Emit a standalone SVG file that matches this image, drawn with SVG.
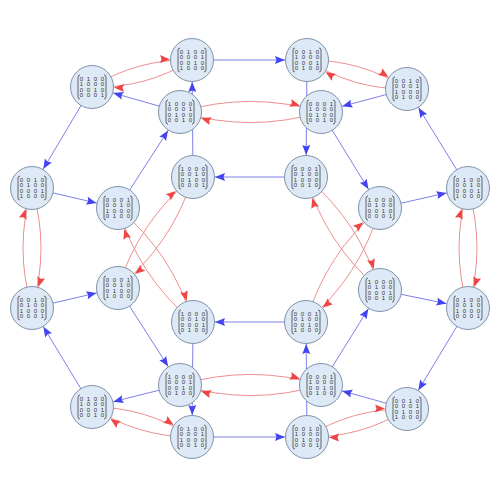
<svg xmlns="http://www.w3.org/2000/svg" xmlns:xlink="http://www.w3.org/1999/xlink" width="500" height="489" viewBox="0 0 500 489">
<style>
.node circle{fill:#dde9f6;stroke:#8093a8;stroke-width:1}
.node text{font-family:"Liberation Sans",Arial,sans-serif;font-size:6px;fill:#333;text-anchor:middle}
.b{fill:none;stroke:#8080ea;stroke-width:1;marker-end:url(#ab)}
.r{fill:none;stroke:#ef8e8e;stroke-width:1;marker-end:url(#ar)}
</style>
<defs>
<marker id="ab" markerUnits="userSpaceOnUse" markerWidth="12" markerHeight="10" orient="auto" refX="22" refY="0" style="overflow:visible">
<path d="M0,0 L-10,-4 L-8.5,0 L-10,4 Z" fill="#4343f0"/>
</marker>
<marker id="ar" markerUnits="userSpaceOnUse" markerWidth="12" markerHeight="10" orient="auto" refX="22" refY="0" style="overflow:visible">
<path d="M0,0 L-10,-4 L-8.5,0 L-10,4 Z" fill="#ef4545"/>
</marker>
<path id="brk" d="M-12,-12 Q-14,-12 -14,-10 V10 Q-14,12 -12,12 M12,-12 Q14,-12 14,-10 V10 Q14,12 12,12" fill="none" stroke="#444" stroke-width="0.8"/>
</defs>
<rect width="500" height="489" fill="#fff"/>
<g id="edges">
<g id="blue">
<path class="b" d="M192,60 L307,60"/>
<path class="b" d="M307,60 L306,177"/>
<path class="b" d="M306,177 L193,177"/>
<path class="b" d="M193,177 L192,60"/>
<path class="b" d="M306,322 L193,322"/>
<path class="b" d="M193,322 L192,437"/>
<path class="b" d="M192,437 L307,437"/>
<path class="b" d="M307,437 L306,322"/>
<path class="b" d="M180,112 L92,87"/>
<path class="b" d="M92,87 L32,188"/>
<path class="b" d="M32,188 L118,208"/>
<path class="b" d="M118,208 L180,112"/>
<path class="b" d="M407,89 L321,112"/>
<path class="b" d="M321,112 L380,208"/>
<path class="b" d="M380,208 L468,188"/>
<path class="b" d="M468,188 L407,89"/>
<path class="b" d="M32,308 L118,288"/>
<path class="b" d="M118,288 L180,385"/>
<path class="b" d="M180,385 L92,407"/>
<path class="b" d="M92,407 L32,308"/>
<path class="b" d="M380,290 L468,308"/>
<path class="b" d="M468,308 L407,409"/>
<path class="b" d="M407,409 L321,385"/>
<path class="b" d="M321,385 L380,290"/>
</g>
<g id="red">
<path class="r" d="M92,87 Q137.95,58.5 192,60"/>
<path class="r" d="M192,60 Q146.05,88.5 92,87"/>
<path class="r" d="M180,112 Q250.5,90.85 321,112"/>
<path class="r" d="M321,112 Q250.5,133.15 180,112"/>
<path class="r" d="M307,60 Q361.35,59.5 407,89"/>
<path class="r" d="M407,89 Q352.65,89.5 307,60"/>
<path class="r" d="M32,188 Q50,248 32,308"/>
<path class="r" d="M32,308 Q14,248 32,188"/>
<path class="r" d="M468,188 Q486,248 468,308"/>
<path class="r" d="M468,308 Q450,248 468,188"/>
<path class="r" d="M118,208 Q172.6,253.75 193,322"/>
<path class="r" d="M193,322 Q138.4,276.25 118,208"/>
<path class="r" d="M118,288 Q138.85,221.25 193,177"/>
<path class="r" d="M193,177 Q172.15,243.75 118,288"/>
<path class="r" d="M306,177 Q359.95,222.4 380,290"/>
<path class="r" d="M380,290 Q326.05,244.6 306,177"/>
<path class="r" d="M380,208 Q360.1,276.1 306,322"/>
<path class="r" d="M306,322 Q325.9,253.9 380,208"/>
<path class="r" d="M180,385 Q250.5,363.85 321,385"/>
<path class="r" d="M321,385 Q250.5,406.15 180,385"/>
<path class="r" d="M92,407 Q146.5,407 192,437"/>
<path class="r" d="M192,437 Q137.5,437 92,407"/>
<path class="r" d="M307,437 Q352.8,408 407,409"/>
<path class="r" d="M407,409 Q361.2,438 307,437"/>
</g>
</g>
<g id="nodes">
<g id="nA" class="node" transform="translate(92,87)"><circle r="21.5"/><use href="#brk"/>
<text x="-10.5 -3.5 3.5 10.5" y="-6.1">0100</text><text x="-10.5 -3.5 3.5 10.5" y="-0.6">1000</text><text x="-10.5 -3.5 3.5 10.5" y="4.9">0010</text><text x="-10.5 -3.5 3.5 10.5" y="10.4">0001</text></g>
<g id="nB" class="node" transform="translate(192,60)"><circle r="21.5"/><use href="#brk"/>
<text x="-10.5 -3.5 3.5 10.5" y="-6.1">0100</text><text x="-10.5 -3.5 3.5 10.5" y="-0.6">0001</text><text x="-10.5 -3.5 3.5 10.5" y="4.9">0010</text><text x="-10.5 -3.5 3.5 10.5" y="10.4">1000</text></g>
<g id="nC" class="node" transform="translate(180,112)"><circle r="21.5"/><use href="#brk"/>
<text x="-10.5 -3.5 3.5 10.5" y="-6.1">1000</text><text x="-10.5 -3.5 3.5 10.5" y="-0.6">0001</text><text x="-10.5 -3.5 3.5 10.5" y="4.9">0100</text><text x="-10.5 -3.5 3.5 10.5" y="10.4">0010</text></g>
<g id="nD" class="node" transform="translate(307,60)"><circle r="21.5"/><use href="#brk"/>
<text x="-10.5 -3.5 3.5 10.5" y="-6.1">0010</text><text x="-10.5 -3.5 3.5 10.5" y="-0.6">1000</text><text x="-10.5 -3.5 3.5 10.5" y="4.9">0001</text><text x="-10.5 -3.5 3.5 10.5" y="10.4">0100</text></g>
<g id="nE" class="node" transform="translate(407,89)"><circle r="21.5"/><use href="#brk"/>
<text x="-10.5 -3.5 3.5 10.5" y="-6.1">0010</text><text x="-10.5 -3.5 3.5 10.5" y="-0.6">0001</text><text x="-10.5 -3.5 3.5 10.5" y="4.9">1000</text><text x="-10.5 -3.5 3.5 10.5" y="10.4">0100</text></g>
<g id="nF" class="node" transform="translate(321,112)"><circle r="21.5"/><use href="#brk"/>
<text x="-10.5 -3.5 3.5 10.5" y="-6.1">0001</text><text x="-10.5 -3.5 3.5 10.5" y="-0.6">1000</text><text x="-10.5 -3.5 3.5 10.5" y="4.9">0100</text><text x="-10.5 -3.5 3.5 10.5" y="10.4">0010</text></g>
<g id="nG" class="node" transform="translate(32,188)"><circle r="21.5"/><use href="#brk"/>
<text x="-10.5 -3.5 3.5 10.5" y="-6.1">0010</text><text x="-10.5 -3.5 3.5 10.5" y="-0.6">0100</text><text x="-10.5 -3.5 3.5 10.5" y="4.9">0001</text><text x="-10.5 -3.5 3.5 10.5" y="10.4">1000</text></g>
<g id="nH" class="node" transform="translate(118,208)"><circle r="21.5"/><use href="#brk"/>
<text x="-10.5 -3.5 3.5 10.5" y="-6.1">0001</text><text x="-10.5 -3.5 3.5 10.5" y="-0.6">0010</text><text x="-10.5 -3.5 3.5 10.5" y="4.9">1000</text><text x="-10.5 -3.5 3.5 10.5" y="10.4">0100</text></g>
<g id="nI" class="node" transform="translate(380,208)"><circle r="21.5"/><use href="#brk"/>
<text x="-10.5 -3.5 3.5 10.5" y="-6.1">1000</text><text x="-10.5 -3.5 3.5 10.5" y="-0.6">0100</text><text x="-10.5 -3.5 3.5 10.5" y="4.9">0010</text><text x="-10.5 -3.5 3.5 10.5" y="10.4">0001</text></g>
<g id="nJ" class="node" transform="translate(468,188)"><circle r="21.5"/><use href="#brk"/>
<text x="-10.5 -3.5 3.5 10.5" y="-6.1">0100</text><text x="-10.5 -3.5 3.5 10.5" y="-0.6">0010</text><text x="-10.5 -3.5 3.5 10.5" y="4.9">0001</text><text x="-10.5 -3.5 3.5 10.5" y="10.4">1000</text></g>
<g id="nK" class="node" transform="translate(32,308)"><circle r="21.5"/><use href="#brk"/>
<text x="-10.5 -3.5 3.5 10.5" y="-6.1">0010</text><text x="-10.5 -3.5 3.5 10.5" y="-0.6">0100</text><text x="-10.5 -3.5 3.5 10.5" y="4.9">1000</text><text x="-10.5 -3.5 3.5 10.5" y="10.4">0001</text></g>
<g id="nL" class="node" transform="translate(118,288)"><circle r="21.5"/><use href="#brk"/>
<text x="-10.5 -3.5 3.5 10.5" y="-6.1">0001</text><text x="-10.5 -3.5 3.5 10.5" y="-0.6">0010</text><text x="-10.5 -3.5 3.5 10.5" y="4.9">0100</text><text x="-10.5 -3.5 3.5 10.5" y="10.4">1000</text></g>
<g id="nM" class="node" transform="translate(380,290)"><circle r="21.5"/><use href="#brk"/>
<text x="-10.5 -3.5 3.5 10.5" y="-6.1">1000</text><text x="-10.5 -3.5 3.5 10.5" y="-0.6">0100</text><text x="-10.5 -3.5 3.5 10.5" y="4.9">0001</text><text x="-10.5 -3.5 3.5 10.5" y="10.4">0010</text></g>
<g id="nN" class="node" transform="translate(468,308)"><circle r="21.5"/><use href="#brk"/>
<text x="-10.5 -3.5 3.5 10.5" y="-6.1">0100</text><text x="-10.5 -3.5 3.5 10.5" y="-0.6">0010</text><text x="-10.5 -3.5 3.5 10.5" y="4.9">1000</text><text x="-10.5 -3.5 3.5 10.5" y="10.4">0001</text></g>
<g id="nO" class="node" transform="translate(92,407)"><circle r="21.5"/><use href="#brk"/>
<text x="-10.5 -3.5 3.5 10.5" y="-6.1">0100</text><text x="-10.5 -3.5 3.5 10.5" y="-0.6">1000</text><text x="-10.5 -3.5 3.5 10.5" y="4.9">0001</text><text x="-10.5 -3.5 3.5 10.5" y="10.4">0010</text></g>
<g id="nP" class="node" transform="translate(180,385)"><circle r="21.5"/><use href="#brk"/>
<text x="-10.5 -3.5 3.5 10.5" y="-6.1">1000</text><text x="-10.5 -3.5 3.5 10.5" y="-0.6">0001</text><text x="-10.5 -3.5 3.5 10.5" y="4.9">0010</text><text x="-10.5 -3.5 3.5 10.5" y="10.4">0100</text></g>
<g id="nQ" class="node" transform="translate(192,437)"><circle r="21.5"/><use href="#brk"/>
<text x="-10.5 -3.5 3.5 10.5" y="-6.1">0100</text><text x="-10.5 -3.5 3.5 10.5" y="-0.6">0001</text><text x="-10.5 -3.5 3.5 10.5" y="4.9">1000</text><text x="-10.5 -3.5 3.5 10.5" y="10.4">0010</text></g>
<g id="nR" class="node" transform="translate(321,385)"><circle r="21.5"/><use href="#brk"/>
<text x="-10.5 -3.5 3.5 10.5" y="-6.1">0001</text><text x="-10.5 -3.5 3.5 10.5" y="-0.6">1000</text><text x="-10.5 -3.5 3.5 10.5" y="4.9">0010</text><text x="-10.5 -3.5 3.5 10.5" y="10.4">0100</text></g>
<g id="nS" class="node" transform="translate(407,409)"><circle r="21.5"/><use href="#brk"/>
<text x="-10.5 -3.5 3.5 10.5" y="-6.1">0010</text><text x="-10.5 -3.5 3.5 10.5" y="-0.6">0001</text><text x="-10.5 -3.5 3.5 10.5" y="4.9">0100</text><text x="-10.5 -3.5 3.5 10.5" y="10.4">1000</text></g>
<g id="nT" class="node" transform="translate(307,437)"><circle r="21.5"/><use href="#brk"/>
<text x="-10.5 -3.5 3.5 10.5" y="-6.1">0010</text><text x="-10.5 -3.5 3.5 10.5" y="-0.6">1000</text><text x="-10.5 -3.5 3.5 10.5" y="4.9">0100</text><text x="-10.5 -3.5 3.5 10.5" y="10.4">0001</text></g>
<g id="nU" class="node" transform="translate(193,177)"><circle r="21.5"/><use href="#brk"/>
<text x="-10.5 -3.5 3.5 10.5" y="-6.1">1000</text><text x="-10.5 -3.5 3.5 10.5" y="-0.6">0010</text><text x="-10.5 -3.5 3.5 10.5" y="4.9">0100</text><text x="-10.5 -3.5 3.5 10.5" y="10.4">0001</text></g>
<g id="nV" class="node" transform="translate(306,177)"><circle r="21.5"/><use href="#brk"/>
<text x="-10.5 -3.5 3.5 10.5" y="-6.1">0001</text><text x="-10.5 -3.5 3.5 10.5" y="-0.6">0100</text><text x="-10.5 -3.5 3.5 10.5" y="4.9">1000</text><text x="-10.5 -3.5 3.5 10.5" y="10.4">0010</text></g>
<g id="nW" class="node" transform="translate(193,322)"><circle r="21.5"/><use href="#brk"/>
<text x="-10.5 -3.5 3.5 10.5" y="-6.1">1000</text><text x="-10.5 -3.5 3.5 10.5" y="-0.6">0010</text><text x="-10.5 -3.5 3.5 10.5" y="4.9">0001</text><text x="-10.5 -3.5 3.5 10.5" y="10.4">0100</text></g>
<g id="nX" class="node" transform="translate(306,322)"><circle r="21.5"/><use href="#brk"/>
<text x="-10.5 -3.5 3.5 10.5" y="-6.1">0001</text><text x="-10.5 -3.5 3.5 10.5" y="-0.6">0100</text><text x="-10.5 -3.5 3.5 10.5" y="4.9">0010</text><text x="-10.5 -3.5 3.5 10.5" y="10.4">1000</text></g>
</g>
</svg>
